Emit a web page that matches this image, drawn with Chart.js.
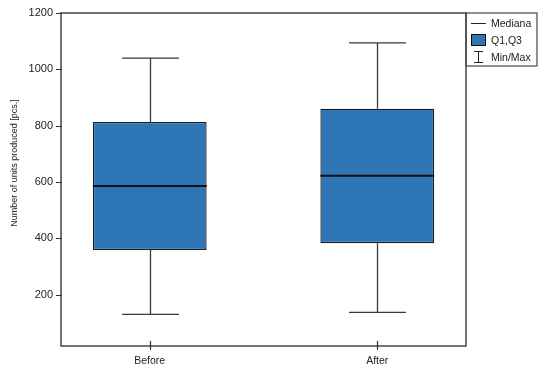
<!DOCTYPE html>
<html><head><meta charset="utf-8">
<script src="https://cdn.jsdelivr.net/npm/chart.js@4/dist/chart.umd.min.js"></script>
<style>html,body{margin:0;padding:0;background:#fff}#wrap{width:550px;height:373px}</style>
</head><body><div id="wrap"><canvas id="c" width="550" height="373"></canvas></div>
<script>
const categories = ['Before', 'After'];
const minValues = [130, 137];
const q1Values = [359, 383];
const medianValues = [586, 622];
const q3Values = [813, 860];
const maxValues = [1040, 1094];
const yTicks = [200, 400, 600, 800, 1000, 1200];
const legendLabels = ['Mediana', 'Q1,Q3', 'Min/Max'];
const yTitle = 'Number of units produced [pcs.]';

const FONT = '"Liberation Sans", Arial, sans-serif';
const BOX_COLOR = '#2E75B6';
const LINE_COLOR = '#3a3a3a';

const boxPlugin = {
  id: 'boxExtras',
  beforeDatasetsDraw(chart) {
    const ctx = chart.ctx, xs = chart.scales.x, ys = chart.scales.y;
    ctx.save();
    ctx.strokeStyle = LINE_COLOR; ctx.lineWidth = 1.3;
    const half = (xs.getPixelForValue(0.125) - xs.getPixelForValue(0));
    categories.forEach((c, i) => {
      const cx = Math.round(xs.getPixelForValue(i)) + 0.5;
      const yMin = ys.getPixelForValue(minValues[i]);
      const yMax = ys.getPixelForValue(maxValues[i]);
      const yq1 = ys.getPixelForValue(q1Values[i]);
      const yq3 = ys.getPixelForValue(q3Values[i]);
      ctx.beginPath();
      ctx.moveTo(cx, yq3); ctx.lineTo(cx, yMax);
      ctx.moveTo(cx - half, yMax); ctx.lineTo(cx + half, yMax);
      ctx.moveTo(cx, yq1); ctx.lineTo(cx, yMin);
      ctx.moveTo(cx - half, yMin); ctx.lineTo(cx + half, yMin);
      ctx.stroke();
    });
    ctx.restore();
  },
  afterDatasetsDraw(chart) {
    const ctx = chart.ctx, xs = chart.scales.x, ys = chart.scales.y, a = chart.chartArea;
    ctx.save();
    const halfBox = (xs.getPixelForValue(0.25) - xs.getPixelForValue(0));
    ctx.strokeStyle = '#111'; ctx.lineWidth = 2;
    categories.forEach((c, i) => {
      const cx = xs.getPixelForValue(i);
      const ym = ys.getPixelForValue(medianValues[i]);
      ctx.beginPath(); ctx.moveTo(cx - halfBox, ym); ctx.lineTo(cx + halfBox, ym); ctx.stroke();
    });
    // frame
    ctx.strokeStyle = '#444'; ctx.lineWidth = 1.5;
    ctx.strokeRect(a.left, a.top, a.right - a.left, a.bottom - a.top);
    // tick marks
    ctx.strokeStyle = '#333'; ctx.lineWidth = 1.2;
    ctx.beginPath();
    categories.forEach((c, i) => {
      const px = Math.round(xs.getPixelForValue(i)) + 0.5;
      ctx.moveTo(px, a.bottom - 5); ctx.lineTo(px, a.bottom + 4);
    });
    yTicks.forEach(v => {
      const py = Math.round(ys.getPixelForValue(v)) + 0.5;
      ctx.moveTo(a.left - 5, py); ctx.lineTo(a.left + 1, py);
    });
    ctx.stroke();
    // y title
    ctx.save();
    ctx.translate(15, 163);
    ctx.rotate(-Math.PI / 2);
    ctx.font = '9px ' + FONT; ctx.fillStyle = '#222';
    ctx.textAlign = 'center'; ctx.textBaseline = 'middle';
    ctx.fillText(yTitle, 0, 0);
    ctx.restore();
    // legend
    const lx = a.right, ly = a.top, lw = 71, lh = 53;
    ctx.lineWidth = 1.2; ctx.strokeStyle = '#444';
    ctx.strokeRect(lx, ly, lw, lh);
    ctx.font = '10.5px ' + FONT; ctx.fillStyle = '#222'; ctx.textBaseline = 'middle';
    const rows = [ly + 10, ly + 27, ly + 44];
    ctx.strokeStyle = '#222'; ctx.lineWidth = 1;
    ctx.beginPath(); ctx.moveTo(lx + 5, rows[0] + 0.5); ctx.lineTo(lx + 20, rows[0] + 0.5); ctx.stroke();
    ctx.fillStyle = BOX_COLOR; ctx.fillRect(lx + 5, rows[1] - 6, 15, 12);
    ctx.strokeStyle = '#111'; ctx.strokeRect(lx + 5.5, rows[1] - 5.5, 14, 11);
    ctx.strokeStyle = '#222';
    ctx.beginPath();
    ctx.moveTo(lx + 8, rows[2] - 5.5); ctx.lineTo(lx + 17, rows[2] - 5.5);
    ctx.moveTo(lx + 12.5, rows[2] - 5.5); ctx.lineTo(lx + 12.5, rows[2] + 5.5);
    ctx.moveTo(lx + 8, rows[2] + 5.5); ctx.lineTo(lx + 17, rows[2] + 5.5);
    ctx.stroke();
    ctx.fillStyle = '#222';
    legendLabels.forEach((t, i) => ctx.fillText(t, lx + 25, rows[i] + 1));
    ctx.restore();
  }
};

new Chart(document.getElementById('c'), {
  type: 'bar',
  data: {
    datasets: [{
      data: categories.map((c, i) => ({ x: i, y: [q1Values[i], q3Values[i]] })),
      backgroundColor: BOX_COLOR,
      borderColor: '#1c1c1c',
      borderWidth: 1.3,
      borderSkipped: false,
      categoryPercentage: 1,
      barPercentage: 0.5
    }]
  },
  options: {
    responsive: false,
    animation: false,
    layout: { padding: { left: 0, right: 84, top: 13, bottom: 0 } },
    plugins: { legend: { display: false }, tooltip: { enabled: false } },
    scales: {
      x: {
        type: 'linear', min: -0.39, max: 1.39, offset: false,
        afterBuildTicks: s => { s.ticks = categories.map((c, i) => ({ value: i })); },
        afterFit: s => { s.height = 27; },
        border: { display: false },
        grid: { display: true, offset: false, drawOnChartArea: false, tickLength: 4, color: 'rgba(0,0,0,0)' },
        ticks: { callback: v => categories[v], font: { size: 10.5, family: FONT }, color: '#222', padding: 5, maxRotation: 0 }
      },
      y: {
        min: 18, max: 1200,
        afterBuildTicks: s => { s.ticks = yTicks.map(v => ({ value: v })); },
        afterFit: s => { s.width = 61; },
        border: { display: false },
        grid: { display: true, drawOnChartArea: false, tickLength: 5, color: 'rgba(0,0,0,0)' },
        ticks: { callback: v => String(v), font: { size: 11, family: FONT }, color: '#222', padding: 3 },
        title: { display: false }
      }
    }
  },
  plugins: [boxPlugin]
});
</script></body></html>
